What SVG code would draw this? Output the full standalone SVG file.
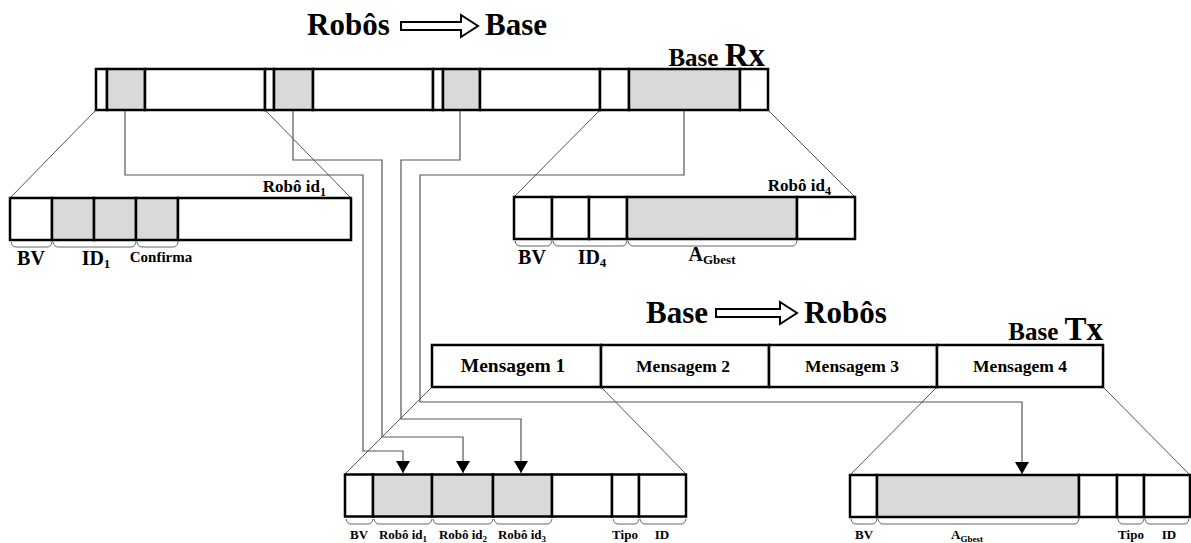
<svg xmlns="http://www.w3.org/2000/svg" width="1191" height="543" viewBox="0 0 1191 543">
<style>
.c{fill:#fff;stroke:#000;stroke-width:2.5}
.g{fill:#d9d9d9;stroke:#000;stroke-width:2.5}
.thin{stroke:#555;stroke-width:1;fill:none}
.conn{stroke:#555;stroke-width:1.2;fill:none}
.br{stroke:#666;stroke-width:1;fill:none}
text{font-family:"Liberation Serif","Times New Roman",serif;font-weight:bold;fill:#000}
.ha{fill:#fff;stroke:#000;stroke-width:2}
</style>
<defs>
<marker id="ah" viewBox="0 0 12 14" refX="12" refY="7" markerWidth="12" markerHeight="14" markerUnits="userSpaceOnUse" orient="auto">
<path d="M0,0 L12,7 L0,14 Z" fill="#000"/>
</marker>
</defs>

<g id="titles">
<text x="307" y="35" font-size="31">Robôs</text>
<path class="ha" d="M401,22 H461 V15 L478,26 L461,37 V30 H401 Z"/>
<text x="485" y="35" font-size="31">Base</text>
<text x="646" y="323" font-size="31">Base</text>
<path class="ha" d="M716,309 H780 V302 L797,313 L780,324 V317 H716 Z"/>
<text x="804" y="323" font-size="31">Robôs</text>
<text x="765" y="66" text-anchor="end"><tspan font-size="25">Base </tspan><tspan font-size="33">Rx</tspan></text>
<text x="1103" y="340" text-anchor="end"><tspan font-size="25">Base </tspan><tspan font-size="33">Tx</tspan></text>
</g>

<g id="connectors">
<path class="thin" d="M96,110 L10,198 M265,110 L351,198"/>
<path class="thin" d="M600,110 L514,197 M768,110 L855,197"/>
<path class="thin" d="M432,387 L345,474 M601,387 L686,474"/>
<path class="thin" d="M937,387 L850,475 M1103,387 L1190,475"/>
<path class="conn" d="M125,110 V175 H363 V451 H403 V473" marker-end="url(#ah)"/>
<path class="conn" d="M293,110 V160 H382 V437 H463 V473" marker-end="url(#ah)"/>
<path class="conn" d="M460,110 V160 H401 V419 H521 V473" marker-end="url(#ah)"/>
<path class="conn" d="M684,110 V175 H420 V402 H1022 V474" marker-end="url(#ah)"/>
</g>

<g id="base-rx">
<rect class="c" x="96" y="69" width="11" height="41"/>
<rect class="g" x="107" y="69" width="38" height="41"/>
<rect class="c" x="145" y="69" width="120" height="41"/>
<rect class="c" x="265" y="69" width="9" height="41"/>
<rect class="g" x="274" y="69" width="39" height="41"/>
<rect class="c" x="313" y="69" width="120" height="41"/>
<rect class="c" x="433" y="69" width="10" height="41"/>
<rect class="g" x="443" y="69" width="37" height="41"/>
<rect class="c" x="480" y="69" width="120" height="41"/>
<rect class="c" x="600" y="69" width="29" height="41"/>
<rect class="g" x="629" y="69" width="111" height="41"/>
<rect class="c" x="740" y="69" width="28" height="41"/>
</g>

<g id="robo-id1">
<text x="326" y="192" text-anchor="end" font-size="17">Robô id<tspan font-size="12" dy="4">1</tspan></text>
<rect class="c" x="10" y="198" width="42" height="42"/>
<rect class="g" x="52" y="198" width="42" height="42"/>
<rect class="g" x="94" y="198" width="42" height="42"/>
<rect class="g" x="136" y="198" width="42" height="42"/>
<rect class="c" x="178" y="198" width="173" height="42"/>
<path class="br" d="M11,242 q1,5 5,5 H47 q4,0 5,-5 M53,242 q1,5 5,5 H131 q4,0 5,-5 M137,242 q1,5 5,5 H173 q4,0 5,-5"/>
<text x="31" y="265" text-anchor="middle" font-size="20">BV</text>
<text x="96" y="265" text-anchor="middle" font-size="20">ID<tspan font-size="13" dy="3">1</tspan></text>
<text x="161" y="262" text-anchor="middle" font-size="15">Confirma</text>
</g>

<g id="robo-id4">
<text x="831" y="191" text-anchor="end" font-size="17">Robô id<tspan font-size="12" dy="4">4</tspan></text>
<rect class="c" x="514" y="197" width="38" height="42"/>
<rect class="c" x="552" y="197" width="37" height="42"/>
<rect class="c" x="589" y="197" width="38" height="42"/>
<rect class="g" x="627" y="197" width="170" height="42"/>
<rect class="c" x="797" y="197" width="58" height="42"/>
<path class="br" d="M515,241 q1,5 5,5 H547 q4,0 5,-5 M553,241 q1,5 5,5 H622 q4,0 5,-5 M628,241 q1,5 5,5 H792 q4,0 5,-5"/>
<text x="532" y="264" text-anchor="middle" font-size="20">BV</text>
<text x="592" y="264" text-anchor="middle" font-size="20">ID<tspan font-size="13" dy="3">4</tspan></text>
<text x="712" y="261" text-anchor="middle" font-size="20">A<tspan font-size="13" dy="3">Gbest</tspan></text>
</g>

<g id="base-tx">
<rect class="c" x="432" y="345" width="169" height="42"/>
<rect class="c" x="601" y="345" width="168" height="42"/>
<rect class="c" x="769" y="345" width="168" height="42"/>
<rect class="c" x="937" y="345" width="166" height="42"/>
<text x="513" y="371.5" text-anchor="middle" font-size="19.5">Mensagem 1</text>
<text x="683" y="371.5" text-anchor="middle" font-size="17.5">Mensagem 2</text>
<text x="852" y="371.5" text-anchor="middle" font-size="17.5">Mensagem 3</text>
<text x="1020" y="371.5" text-anchor="middle" font-size="17.5">Mensagem 4</text>
</g>

<g id="pacote-base">
<rect class="c" x="345" y="474.5" width="28" height="42"/>
<rect class="g" x="373" y="474.5" width="59" height="42"/>
<rect class="g" x="432" y="474.5" width="61" height="42"/>
<rect class="g" x="493" y="474.5" width="59" height="42"/>
<rect class="c" x="552" y="474.5" width="60" height="42"/>
<rect class="c" x="612" y="474.5" width="27" height="42"/>
<rect class="c" x="639" y="474.5" width="47" height="42"/>
<path class="br" d="M346,519 q1,5 5,5 H368 q4,0 5,-5 M374,519 q1,5 5,5 H427 q4,0 5,-5 M433,519 q1,5 5,5 H488 q4,0 5,-5 M494,519 q1,5 5,5 H547 q4,0 5,-5 M613,519 q1,5 5,5 H634 q4,0 5,-5 M640,519 q1,5 5,5 H681 q4,0 5,-5"/>
<text x="359" y="539" text-anchor="middle" font-size="13">BV</text>
<text x="403" y="539" text-anchor="middle" font-size="13">Robô id<tspan font-size="9" dy="3">1</tspan></text>
<text x="463" y="539" text-anchor="middle" font-size="13">Robô id<tspan font-size="9" dy="3">2</tspan></text>
<text x="522" y="539" text-anchor="middle" font-size="13">Robô id<tspan font-size="9" dy="3">3</tspan></text>
<text x="625" y="539" text-anchor="middle" font-size="13">Tipo</text>
<text x="662" y="539" text-anchor="middle" font-size="13">ID</text>
</g>

<g id="pacote-robo">
<rect class="c" x="850" y="475" width="27" height="42"/>
<rect class="g" x="877" y="475" width="202" height="42"/>
<rect class="c" x="1079" y="475" width="38" height="42"/>
<rect class="c" x="1117" y="475" width="27" height="42"/>
<rect class="c" x="1144" y="475" width="46" height="42"/>
<path class="br" d="M851,519 q1,5 5,5 H872 q4,0 5,-5 M878,519 q1,5 5,5 H1074 q4,0 5,-5 M1118,519 q1,5 5,5 H1139 q4,0 5,-5 M1145,519 q1,5 5,5 H1184 q4,0 5,-5"/>
<text x="864" y="539" text-anchor="middle" font-size="13">BV</text>
<text x="967" y="539" text-anchor="middle" font-size="13">A<tspan font-size="9" dy="3">Gbest</tspan></text>
<text x="1131" y="539" text-anchor="middle" font-size="13">Tipo</text>
<text x="1169" y="539" text-anchor="middle" font-size="13">ID</text>
</g>
</svg>
